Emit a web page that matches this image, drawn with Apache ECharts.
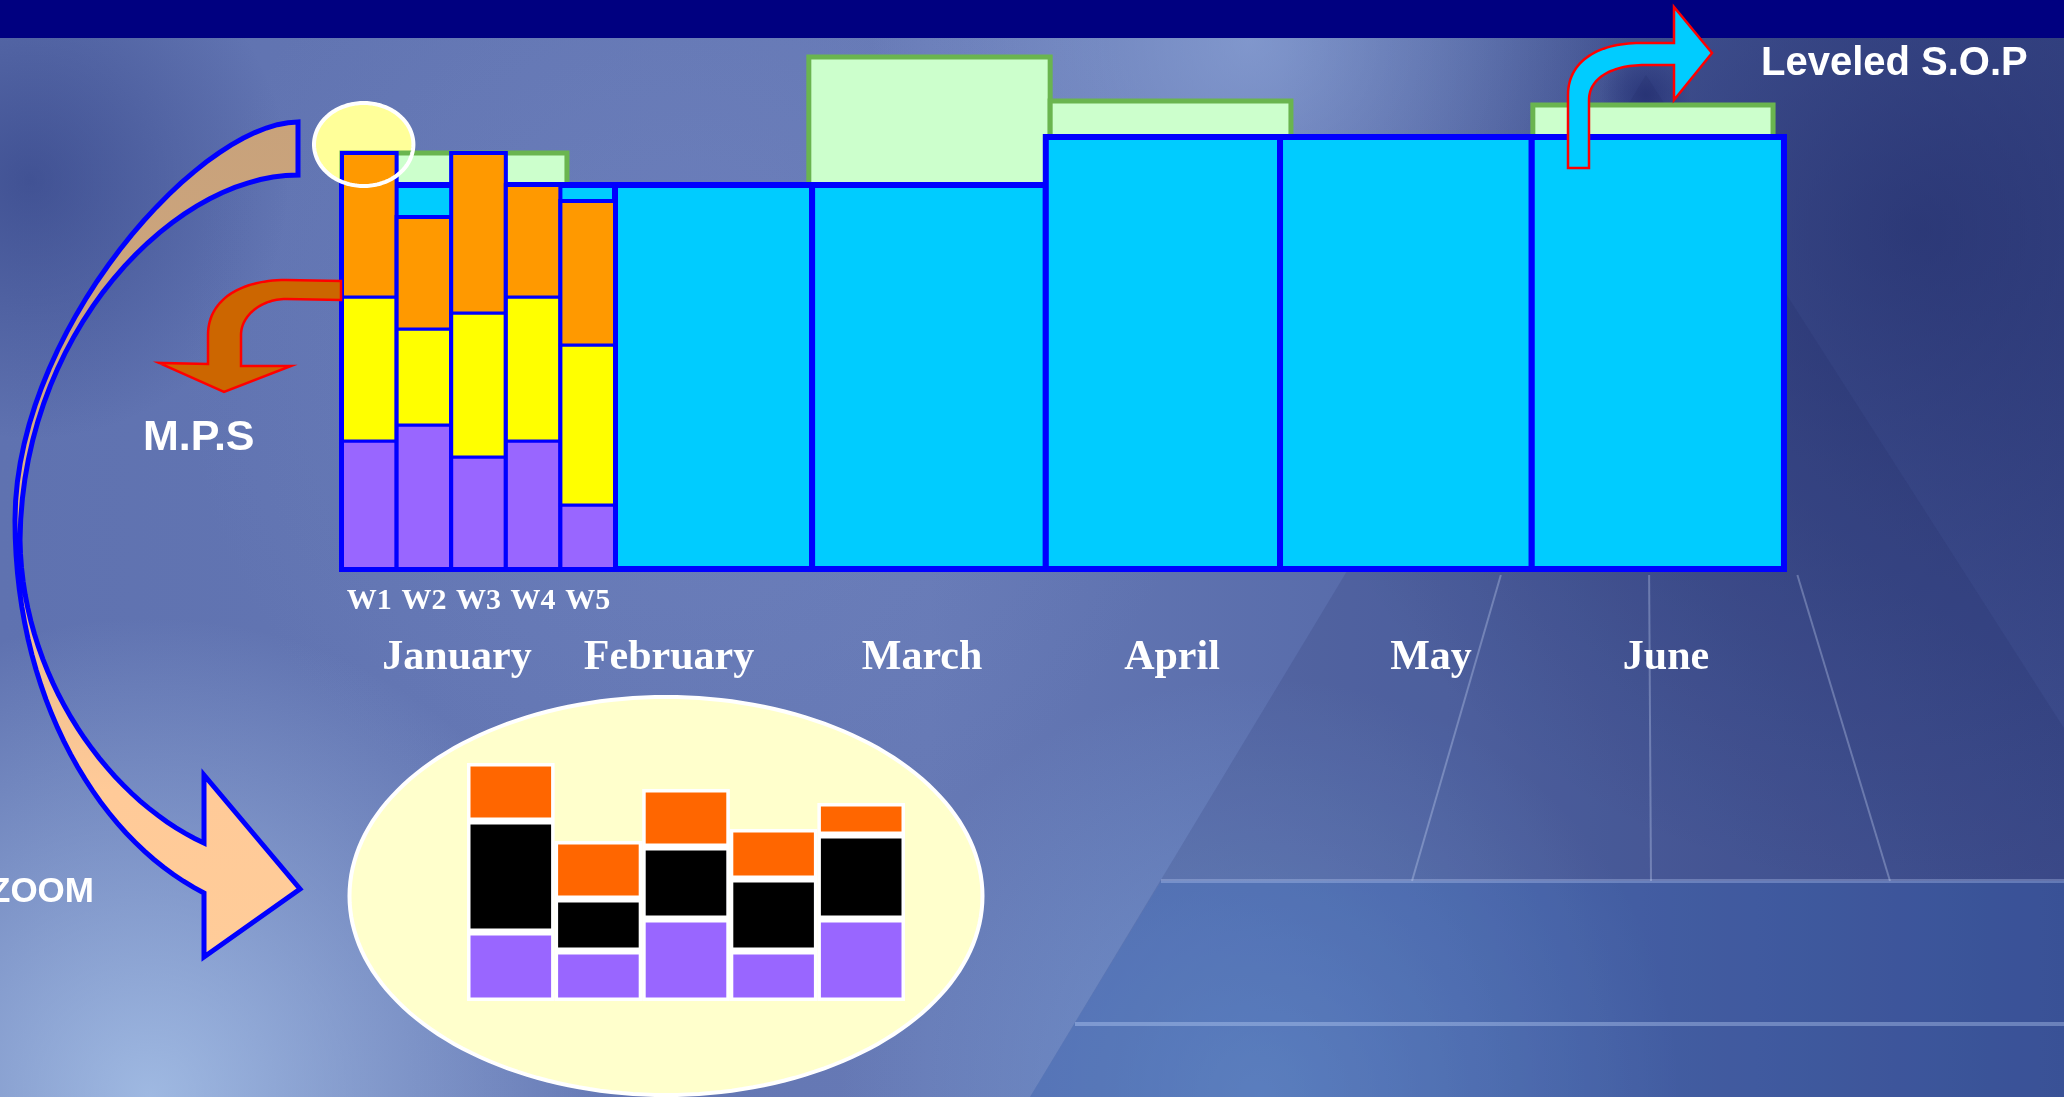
<!DOCTYPE html>
<html>
<head>
<meta charset="utf-8">
<script src="https://cdn.jsdelivr.net/npm/echarts@6.0.0/dist/echarts.min.js"></script>
<style>
html,body{margin:0;padding:0;background:#5f72b0;overflow:hidden;}
#c{width:2064px;height:1097px;}
</style>
</head>
<body>
<div id="c"></div>
<script>
// ---------------- DATA ----------------
const months = ['January', 'February', 'March', 'April', 'May', 'June'];
const weeks = ['W1', 'W2', 'W3', 'W4', 'W5'];
// January weekly M.P.S, stacked bottom -> top
const mpsPurple = [32, 36, 28, 32, 16];
const mpsYellow = [36, 24, 36, 36, 40];
const mpsOrange = [36, 28, 40, 28, 36];
// Leveled S.O.P per month (time axis in weeks from 1 January)
const sopStart = [0, 5, 8.61, 12.89, 17.18, 21.79];
const sopEnd = [5, 8.61, 12.89, 17.18, 21.79, 26.41];
const leveledSOP = [96, 96, 96, 108, 108, 108];
// Monthly demand (non leveled)
const demandStart = [0, 4.12, 8.55, 12.97, 17.38, 21.81];
const demandEnd = [4.12, 8.55, 12.97, 17.38, 21.81, 26.21];
const demandSOP = [104, 56, 128, 117, 91, 116];
// Zoom on the first week
const zoomDays = ['D1', 'D2', 'D3', 'D4', 'D5'];
const zoomPurple = [6.9, 5.0, 8.2, 5.0, 8.2];
const zoomBlack = [11.1, 5.2, 7.2, 7.2, 8.4];
const zoomOrange = [5.8, 5.8, 5.8, 5.0, 3.2];

// ---------------- LAYOUT / STYLE ----------------
const W = 2064, H = 1097;
const monthLabelX = [457, 669, 922, 1172, 1431, 1666];
const SERIF = '"Liberation Serif","Times New Roman",serif';
const SANS = '"Liberation Sans",Arial,sans-serif';

const chart = echarts.init(document.getElementById('c'), null, {renderer: 'canvas'});

function bezierPts(cmds) {
  const pts = [];
  let cur = null;
  for (const c of cmds) {
    if (c[0] === 'M' || c[0] === 'L') { cur = [c[1], c[2]]; pts.push(cur); }
    else {
      const p0 = cur, p1 = [c[1], c[2]], p2 = [c[3], c[4]], p3 = [c[5], c[6]];
      for (let k = 1; k <= 30; k++) {
        const t = k / 30, u = 1 - t;
        pts.push([
          u*u*u*p0[0] + 3*u*u*t*p1[0] + 3*u*t*t*p2[0] + t*t*t*p3[0],
          u*u*u*p0[1] + 3*u*u*t*p1[1] + 3*u*t*t*p2[1] + t*t*t*p3[1]
        ]);
      }
      cur = p3;
    }
  }
  return pts;
}
function ellipsePts(cx, cy, rx, ry) {
  const p = [];
  for (let k = 0; k < 180; k++) {
    const a = 2 * Math.PI * k / 180;
    p.push([cx + rx * Math.cos(a), cy + ry * Math.sin(a)]);
  }
  return p;
}
function radial(cx, cy, r, rgb, a, z) {
  return {type: 'circle', silent: true, z: z || 0, shape: {cx: cx, cy: cy, r: r},
    style: {fill: {type: 'radial', x: 0.5, y: 0.5, r: 0.5, colorStops: [
      {offset: 0, color: 'rgba(' + rgb + ',' + a + ')'},
      {offset: 1, color: 'rgba(' + rgb + ',0)'}]}}};
}
function txt(t, x, y, font, align, z) {
  return {type: 'text', silent: true, z: z || 10, x: x, y: y,
    style: {text: t, font: font, fill: '#ffffff', align: align, textAlign: align,
      verticalAlign: 'middle', textVerticalAlign: 'middle'}};
}

const graphics = [];
// background
graphics.push({type: 'rect', silent: true, z: 0, shape: {x: 0, y: 0, width: W, height: H},
  style: {fill: {type: 'linear', x: 0, y: 0, x2: 1, y2: 0, colorStops: [
    {offset: 0, color: '#5f72b0'}, {offset: 0.45, color: '#6679b5'},
    {offset: 0.7, color: '#5569a8'}, {offset: 1, color: '#3f4f8f'}]}}});
graphics.push(radial(700, 350, 520, '125,145,205', 0.3));
graphics.push(radial(1920, 230, 660, '28,38,100', 0.6));
graphics.push(radial(1250, 40, 380, '165,190,235', 0.5));
graphics.push(radial(30, 180, 260, '35,50,120', 0.5));
graphics.push(radial(150, 1097, 480, '180,208,242', 0.75));
graphics.push(radial(1260, 1097, 420, '135,180,232', 0.5));
graphics.push(radial(1646, 95, 45, '30,40,110', 0.6));
// perspective pyramid in background
graphics.push({type: 'polygon', silent: true, z: 0, shape: {points: [[1646, 75], [1030, 1097], [2300, 1097]]},
  style: {fill: 'rgba(25,35,95,0.14)'}});
graphics.push({type: 'polygon', silent: true, z: 0, shape: {points: [[1161, 881], [2064, 881], [2064, 1097], [1030, 1097]]},
  style: {fill: 'rgba(55,115,205,0.22)'}});
[[1412, 881], [1651, 881], [1890, 881]].forEach(function (p) {
  const t = (575 - 75) / (p[1] - 75);
  graphics.push({type: 'line', silent: true, z: 0,
    shape: {x1: 1646 + (p[0] - 1646) * t, y1: 575, x2: p[0], y2: p[1]},
    style: {stroke: 'rgba(215,228,255,0.3)', lineWidth: 2}});
});
graphics.push({type: 'line', silent: true, z: 0, shape: {x1: 1161, y1: 881, x2: 2064, y2: 881},
  style: {stroke: 'rgba(200,215,255,0.3)', lineWidth: 4}});
graphics.push({type: 'line', silent: true, z: 0, shape: {x1: 1075, y1: 1024, x2: 2064, y2: 1024},
  style: {stroke: 'rgba(200,220,255,0.35)', lineWidth: 4}});
// top navy band
graphics.push({type: 'rect', silent: true, z: 0, shape: {x: 0, y: 0, width: W, height: 38}, style: {fill: '#000080'}});

// zoom ellipse (behind the mini chart)
graphics.push({type: 'polygon', silent: true, z: 1, shape: {points: ellipsePts(666, 896, 316.5, 199)},
  style: {fill: '#FFFFCC', stroke: '#ffffff', lineWidth: 4}});
// small highlight ellipse on W1
graphics.push({type: 'polygon', silent: true, z: 1, shape: {points: ellipsePts(363.7, 144.5, 49.7, 41.5)},
  style: {fill: '#FFFF99'}});
graphics.push({type: 'polygon', silent: true, z: 10, shape: {points: ellipsePts(363.7, 144.5, 49.7, 41.5)},
  style: {fill: 'none', stroke: '#ffffff', lineWidth: 4}});

// big curved ZOOM arrow
graphics.push({type: 'polygon', silent: true, z: 10, shape: {points: bezierPts([
  ['M', 298, 122],
  ['C', 200, 122, 15, 330, 15, 520],
  ['C', 15, 700, 100, 840, 204, 893],
  ['L', 204, 957], ['L', 300, 889], ['L', 204, 775], ['L', 204, 843],
  ['C', 110, 800, 22, 680, 20, 540],
  ['C', 22, 330, 175, 175, 298, 175]
])}, style: {fill: {type: 'linear', x: 0, y: 0, x2: 0, y2: 1, colorStops: [
  {offset: 0, color: '#C8A27B'}, {offset: 0.25, color: '#CDA57D'}, {offset: 0.8, color: '#FFCA98'}, {offset: 1, color: '#FFCC99'}]},
  stroke: '#0000FF', lineWidth: 5, lineJoin: 'miter'}});
// small M.P.S arrow
graphics.push({type: 'polygon', silent: true, z: 10, shape: {points: bezierPts([
  ['M', 341, 281], ['L', 286, 280],
  ['C', 240, 280, 208, 300, 208, 335],
  ['L', 208, 364], ['L', 159, 363], ['L', 224, 392], ['L', 291, 366], ['L', 241, 366], ['L', 241, 335],
  ['C', 241, 315, 262, 299, 286, 299],
  ['L', 341, 300]
])}, style: {fill: '#CC6600', stroke: '#FF0000', lineWidth: 2.5}});
// Leveled S.O.P arrow
graphics.push({type: 'polygon', silent: true, z: 10, shape: {points: bezierPts([
  ['M', 1568, 168], ['L', 1568, 95],
  ['C', 1568, 60, 1600, 43, 1640, 43],
  ['L', 1674, 43], ['L', 1674, 7], ['L', 1712, 53], ['L', 1674, 100], ['L', 1674, 65], ['L', 1645, 65],
  ['C', 1612, 65, 1589, 78, 1589, 100],
  ['L', 1589, 168]
])}, style: {fill: '#00CCFF', stroke: '#FF0000', lineWidth: 2.5}});

// annotations
graphics.push(txt('Leveled S.O.P', 1761, 64, 'bold 40px ' + SANS, 'left'));
graphics.push(txt('M.P.S', 143, 438, 'bold 43px ' + SANS, 'left'));
graphics.push(txt('ZOOM', 94, 892, 'bold 35px ' + SANS, 'right'));
months.forEach(function (m, i) {
  graphics.push(txt(m, monthLabelX[i], 658, 'bold 42px ' + SERIF, 'center'));
});

function spanRect(fill, stroke, lw) {
  return function (params, api) {
    const p0 = api.coord([api.value(0), api.value(2)]);
    const p1 = api.coord([api.value(1), 0]);
    return {type: 'rect', shape: {x: p0[0], y: p0[1], width: p1[0] - p0[0], height: p1[1] - p0[1]},
      style: {fill: fill, stroke: stroke, lineWidth: lw}};
  };
}

const option = {
  animation: false,
  backgroundColor: 'transparent',
  grid: [
    {left: 287.4, top: 49, width: 1528.8, height: 520},
    {left: 467, top: 701, width: 438, height: 300}
  ],
  xAxis: [
    {type: 'value', gridIndex: 0, min: -1, max: 27, show: false},
    {type: 'category', gridIndex: 1, data: zoomDays, show: false}
  ],
  yAxis: [
    {type: 'value', gridIndex: 0, min: 0, max: 130, show: false},
    {type: 'value', gridIndex: 1, min: 0, max: 30, show: false}
  ],
  series: [
    {
      name: 'S.O.P', type: 'custom', xAxisIndex: 0, yAxisIndex: 0, z: 2, silent: true,
      data: demandStart.map(function (s, i) { return [s, demandEnd[i], demandSOP[i]]; }),
      renderItem: spanRect('#CCFFCC', '#6AB54F', 5)
    },
    {
      name: 'Leveled S.O.P', type: 'custom', xAxisIndex: 0, yAxisIndex: 0, z: 3, silent: true,
      data: sopStart.map(function (s, i) { return [s, sopEnd[i], leveledSOP[i]]; }),
      renderItem: spanRect('#00CCFF', '#0000FF', 6)
    },
    {
      name: 'M.P.S', type: 'custom', xAxisIndex: 0, yAxisIndex: 0, z: 4, silent: true,
      data: weeks.map(function (w, i) { return [i, mpsPurple[i], mpsYellow[i], mpsOrange[i]]; }),
      renderItem: function (params, api) {
        const i = api.value(0);
        const vals = [api.value(1), api.value(2), api.value(3)];
        const colors = ['#9966FF', '#FFFF00', '#FF9900'];
        const xL = api.coord([i, 0])[0], xR = api.coord([i + 1, 0])[0];
        const yBot = api.coord([i, 0])[1];
        const children = [];
        let acc = 0;
        vals.forEach(function (v, k) {
          const yB = api.coord([i, acc])[1];
          const yT = api.coord([i, acc + v])[1];
          children.push({type: 'rect', shape: {x: xL, y: yT, width: xR - xL, height: yB - yT},
            style: {fill: colors[k], stroke: '#0000FF', lineWidth: 3}});
          acc += v;
        });
        const yTop = api.coord([i, acc])[1];
        children.push({type: 'rect', shape: {x: xL, y: yTop, width: xR - xL, height: yBot - yTop},
          style: {fill: 'none', stroke: '#0000FF', lineWidth: 4}});
        children.push({type: 'text', x: (xL + xR) / 2, y: yBot + 32,
          style: {text: weeks[i], font: 'bold 30px ' + SERIF, fill: '#ffffff',
            align: 'center', verticalAlign: 'middle'}});
        return {type: 'group', children: children};
      }
    },
    {name: 'Zoom base', type: 'bar', xAxisIndex: 1, yAxisIndex: 1, stack: 'zoom', z: 4, silent: true,
      barCategoryGap: '0%', data: zoomPurple,
      itemStyle: {color: '#9966FF', borderColor: '#ffffff', borderWidth: 3.5}},
    {name: 'Zoom mid', type: 'bar', xAxisIndex: 1, yAxisIndex: 1, stack: 'zoom', z: 4, silent: true,
      barCategoryGap: '0%', data: zoomBlack,
      itemStyle: {color: '#000000', borderColor: '#ffffff', borderWidth: 3.5}},
    {name: 'Zoom top', type: 'bar', xAxisIndex: 1, yAxisIndex: 1, stack: 'zoom', z: 4, silent: true,
      barCategoryGap: '0%', data: zoomOrange,
      itemStyle: {color: '#FF6600', borderColor: '#ffffff', borderWidth: 3.5}}
  ],
  graphic: {elements: graphics}
};
chart.setOption(option);
</script>
</body>
</html>
